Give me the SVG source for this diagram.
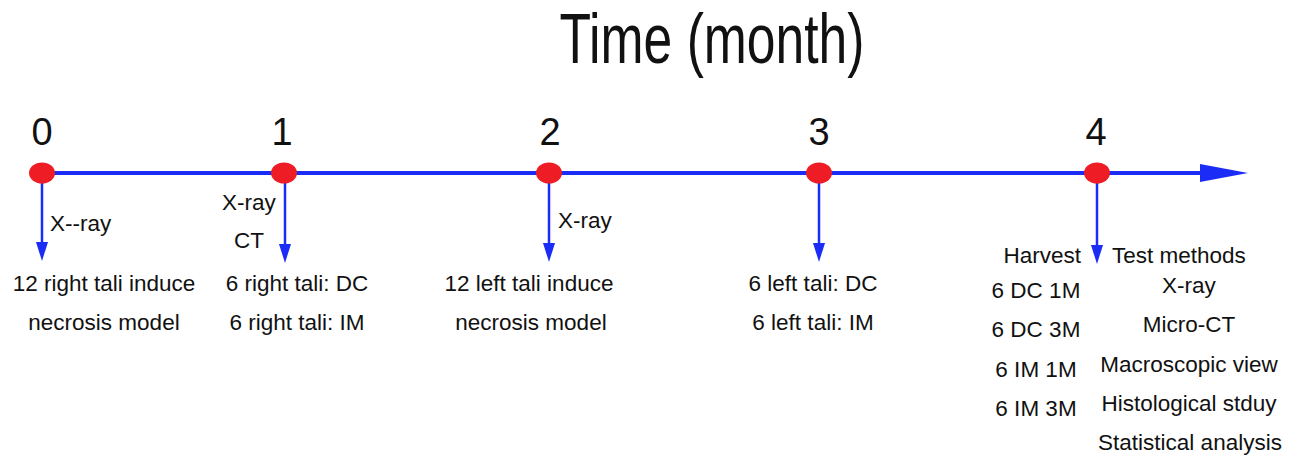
<svg xmlns="http://www.w3.org/2000/svg" width="1289" height="455" viewBox="0 0 1289 455">
<style>
text{font-family:"Liberation Sans",Arial,sans-serif;fill:#111}
.lb{font-size:22.5px;text-anchor:middle}
.sm{font-size:22.5px}
.num{font-size:38px;text-anchor:middle}
.ax{stroke:#1a2cf5;stroke-width:4;fill:none}
.vc{stroke:#1a2cf5;stroke-width:2.5;fill:none}
.dot{fill:#ee1c24}
.hd{fill:#1a2cf5}
</style>
<rect width="1289" height="455" fill="#fff"/>
<text x="712" y="63" font-size="70" text-anchor="middle" textLength="305" lengthAdjust="spacingAndGlyphs">Time (month)</text>
<g id="connectors">
<line class="ax" x1="42" y1="173" x2="1202" y2="173"/>
<path class="hd" d="M1200,164 L1248,173 L1200,182 Z"/>
<path class="vc" d="M42,173 V243"/><path class="hd" d="M36,242 L48,242 L42,261 Z"/>
<path class="vc" d="M285,173 V245"/><path class="hd" d="M279,244 L291,244 L285,263 Z"/>
<path class="vc" d="M549,173 V244"/><path class="hd" d="M543,243 L555,243 L549,262 Z"/>
<path class="vc" d="M819,173 V244"/><path class="hd" d="M813,243 L825,243 L819,262 Z"/>
<path class="vc" d="M1097,173 V246"/><path class="hd" d="M1091,245 L1103,245 L1097,264 Z"/>
</g>
<g id="m0">
<ellipse class="dot" cx="42" cy="173" rx="13" ry="10.5"/>
<text class="num" x="42" y="145">0</text>
<text class="sm" x="50" y="231">X--ray</text>
<text class="lb" x="104" y="291">12 right tali induce</text>
<text class="lb" x="104" y="330">necrosis model</text>
</g>
<g id="m1">
<ellipse class="dot" cx="284" cy="173" rx="13" ry="10.5"/>
<text class="num" x="282" y="145">1</text>
<text class="lb" x="249" y="210">X-ray</text>
<text class="lb" x="249" y="248">CT</text>
<text class="lb" x="297" y="291">6 right tali: DC</text>
<text class="lb" x="297" y="330">6 right tali: IM</text>
</g>
<g id="m2">
<ellipse class="dot" cx="549" cy="173" rx="13" ry="10.5"/>
<text class="num" x="550" y="145">2</text>
<text class="sm" x="558" y="228">X-ray</text>
<text class="lb" x="529" y="291">12 left tali induce</text>
<text class="lb" x="531" y="330">necrosis model</text>
</g>
<g id="m3">
<ellipse class="dot" cx="819" cy="173" rx="13" ry="10.5"/>
<text class="num" x="819" y="145">3</text>
<text class="lb" x="813" y="291">6 left tali: DC</text>
<text class="lb" x="813" y="330">6 left tali: IM</text>
</g>
<g id="m4">
<ellipse class="dot" cx="1097" cy="173" rx="13" ry="10.5"/>
<text class="num" x="1096" y="145">4</text>
<text class="sm" x="1081" y="263" text-anchor="end">Harvest</text>
<text class="sm" x="1112" y="263">Test methods</text>
<text class="lb" x="1036" y="298">6 DC 1M</text>
<text class="lb" x="1036" y="337">6 DC 3M</text>
<text class="lb" x="1036" y="377">6 IM 1M</text>
<text class="lb" x="1036" y="416">6 IM 3M</text>
<text class="lb" x="1189" y="293">X-ray</text>
<text class="lb" x="1189" y="332">Micro-CT</text>
<text class="lb" x="1189" y="372">Macroscopic view</text>
<text class="lb" x="1189" y="411">Histological stduy</text>
<text class="lb" x="1190" y="450">Statistical analysis</text>
</g>
</svg>
